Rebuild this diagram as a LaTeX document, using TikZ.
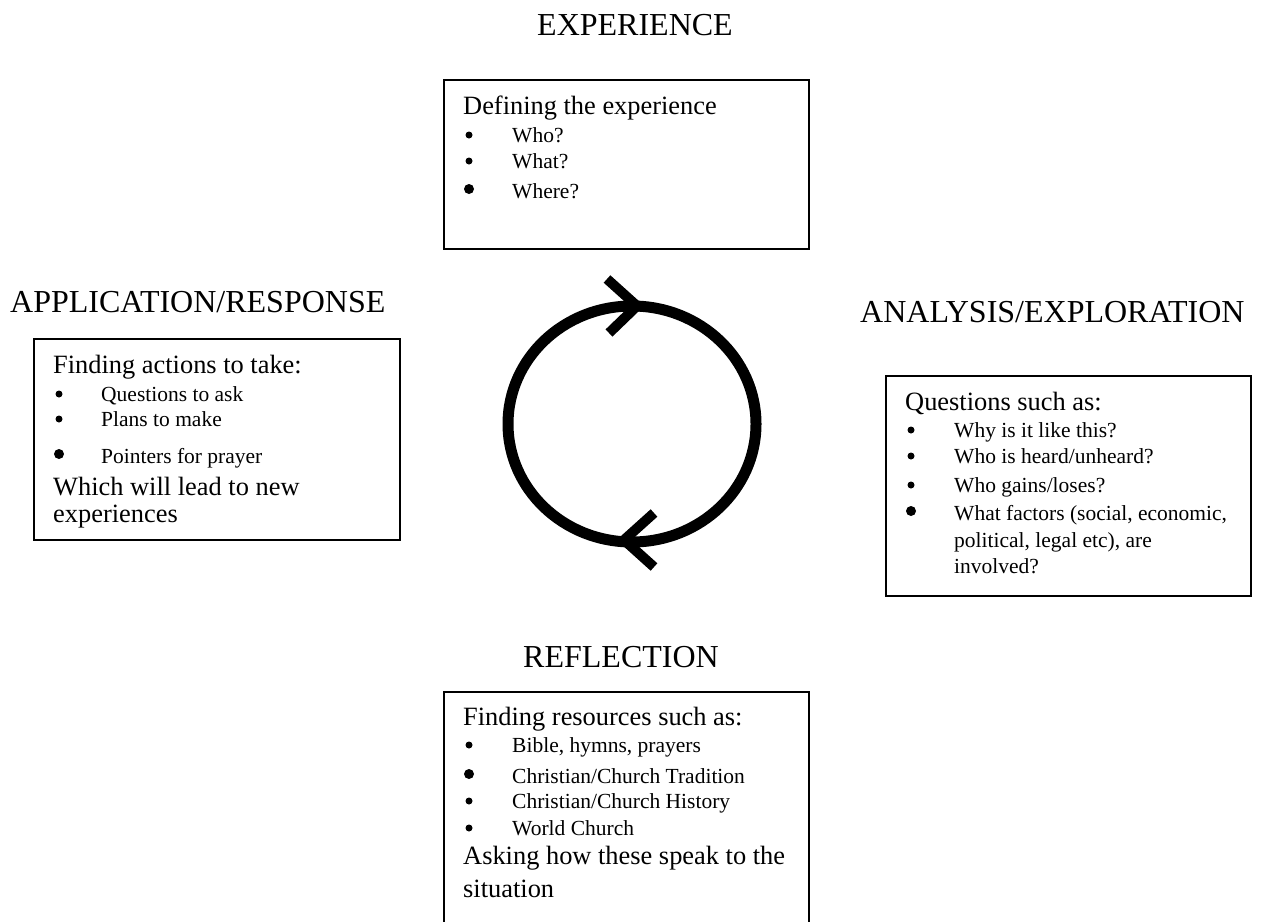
\documentclass[tikz,border=0pt]{standalone}
\usepackage{fontspec}
\setmainfont{Liberation Serif}
\begin{document}
\begin{tikzpicture}[x=1pt,y=-1pt,
  titletext/.style={font=\fontsize{32}{38}\selectfont, inner sep=0pt, anchor=base},
  maintext/.style={font=\fontsize{26.4}{31}\selectfont, inner sep=0pt, anchor=base west},
  itemtext/.style={font=\fontsize{21.5}{26}\selectfont, inner sep=0pt, anchor=base west},
  smallbullet/.style={circle, fill=black, inner sep=0pt, minimum size=7pt},
  bigbullet/.style={circle, fill=black, inner sep=0pt, minimum size=10pt},
  framebox/.style={draw, line width=1.8pt, inner sep=0pt, anchor=north west},
  cycleline/.style={line width=11pt},
  chevron/.style={line width=10pt, line cap=butt, line join=miter}]
\useasboundingbox (0,0) rectangle (1265,921);
\clip (0,0) rectangle (1265,921);

% titles
\node[titletext] (ttexp) at (635,35) {EXPERIENCE};
\node[titletext, anchor=base west] (ttapp) at (10,312) {APPLICATION/RESPONSE};
\node[titletext, anchor=base west] (ttana) at (860,322) {ANALYSIS/EXPLORATION};
\node[titletext] (ttref) at (621,667) {REFLECTION};

% boxes
\node[framebox, minimum width=365pt, minimum height=169pt] (expbox) at (443,79) {};
\node[framebox, minimum width=366pt, minimum height=201pt] (appbox) at (33,338) {};
\node[framebox, minimum width=365pt, minimum height=220pt] (anabox) at (885,375) {};
\node[framebox, minimum width=365pt, minimum height=300pt] (refbox) at (443,691) {};

% experience box text
\node[maintext] (e0) at (463,114) {Defining the experience};
\node[smallbullet] (eb1) at (469,135) {};
\node[itemtext] (e1) at (512,142) {Who?};
\node[smallbullet] (eb2) at (469,161) {};
\node[itemtext] (e2) at (512,168) {What?};
\node[bigbullet] (eb3) at (469,189) {};
\node[itemtext] (e3) at (512,198) {Where?};

% application box text
\node[maintext] (a0) at (53,373) {Finding actions to take:};
\node[smallbullet] (ab1) at (59,394) {};
\node[itemtext] (a1) at (101,401) {Questions to ask};
\node[smallbullet] (ab2) at (59,419) {};
\node[itemtext] (a2) at (101,426) {Plans to make};
\node[bigbullet] (ab3) at (59,454) {};
\node[itemtext] (a3) at (101,463) {Pointers for prayer};
\node[maintext] (a4) at (53,495) {Which will lead to new};
\node[maintext] (a5) at (53,522) {experiences};

% analysis box text
\node[maintext] (n0) at (905,410) {Questions such as:};
\node[smallbullet] (nb1) at (911,430) {};
\node[itemtext] (n1) at (954,437) {Why is it like this?};
\node[smallbullet] (nb2) at (911,456) {};
\node[itemtext] (n2) at (954,463) {Who is heard/unheard?};
\node[smallbullet] (nb3) at (911,485) {};
\node[itemtext] (n3) at (954,492) {Who gains/loses?};
\node[bigbullet] (nb4) at (911,511) {};
\node[itemtext] (n4) at (954,520) {What factors (social, economic,};
\node[itemtext] (n5) at (954,547) {political, legal etc), are};
\node[itemtext] (n6) at (954,573) {involved?};

% reflection box text
\node[maintext] (r0) at (463,725) {Finding resources such as:};
\node[smallbullet] (rb1) at (469,745) {};
\node[itemtext] (r1) at (512,752) {Bible, hymns, prayers};
\node[bigbullet] (rb2) at (469,774) {};
\node[itemtext] (r2) at (512,783) {Christian/Church Tradition};
\node[smallbullet] (rb3) at (469,801) {};
\node[itemtext] (r3) at (512,808) {Christian/Church History};
\node[smallbullet] (rb4) at (469,828) {};
\node[itemtext] (r4) at (512,835) {World Church};
\node[maintext] (r5) at (463,864) {Asking how these speak to the};
\node[maintext] (r6) at (463,897) {situation};

% cycle
\draw[cycleline] (632,424) ellipse [x radius=124pt, y radius=118pt];
\coordinate (ctopa) at (607,279);
\coordinate (ctopb) at (637,306);
\coordinate (ctopc) at (609,333);
\draw[chevron] (ctopa) -- (ctopb) -- (ctopc);
\coordinate (cbota) at (654,513);
\coordinate (cbotb) at (624,540);
\coordinate (cbotc) at (654,567);
\draw[chevron] (cbota) -- (cbotb) -- (cbotc);
\end{tikzpicture}
\end{document}
